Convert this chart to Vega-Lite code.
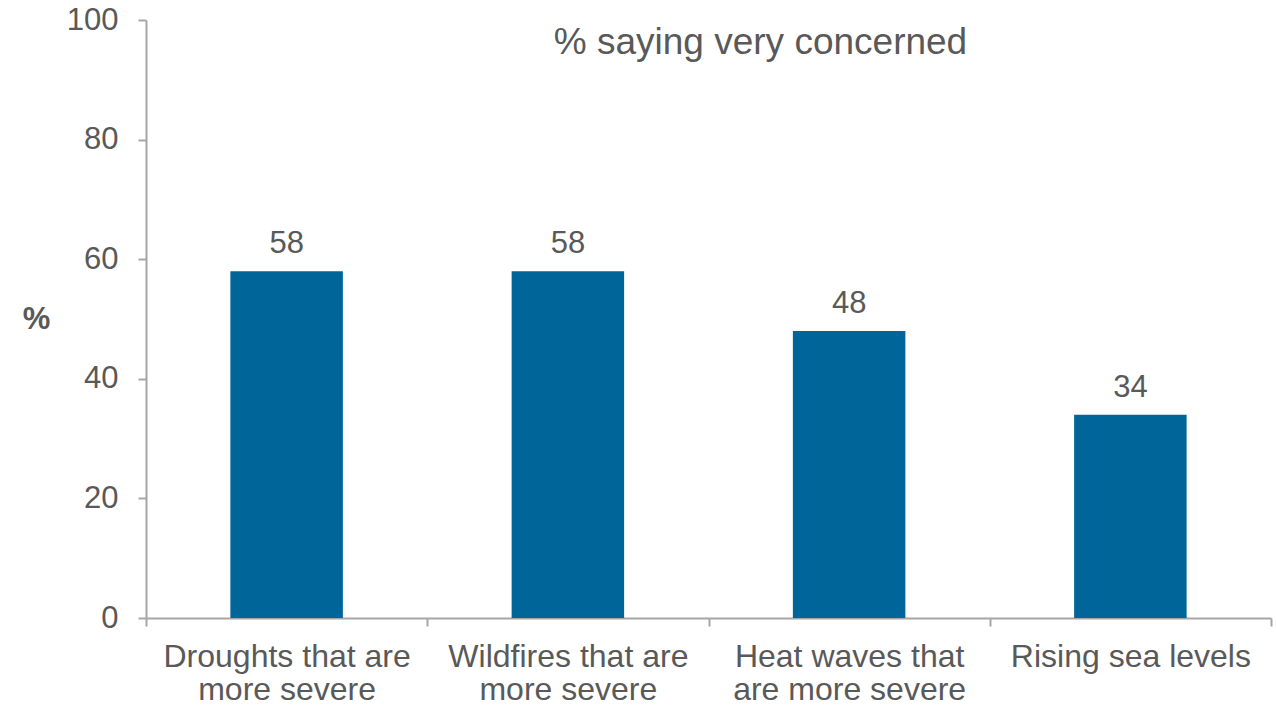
{
  "$schema": "https://vega.github.io/schema/vega-lite/v6.json",
  "autosize": "none",
  "width": 1125,
  "height": 598,
  "padding": {"left": 146, "top": 20, "right": 5, "bottom": 87},
  "background": "white",
  "config": {
    "view": {"stroke": null},
    "font": "Liberation Sans",
    "axis": {"labelFont": "Liberation Sans", "titleFont": "Liberation Sans"}
  },
  "title": {
    "text": "% saying very concerned",
    "anchor": "middle",
    "dx": 52,
    "offset": -58,
    "fontSize": 37,
    "fontWeight": "normal",
    "color": "#595959",
    "font": "Liberation Sans"
  },
  "data": {
    "values": [
      {"concern": "Droughts that are|more severe", "pct": 58},
      {"concern": "Wildfires that are|more severe", "pct": 58},
      {"concern": "Heat waves that|are more severe", "pct": 48},
      {"concern": "Rising sea levels", "pct": 34}
    ]
  },
  "encoding": {
    "x": {
      "field": "concern",
      "type": "nominal",
      "sort": null,
      "scale": {"paddingInner": 0, "paddingOuter": 0},
      "axis": {
        "title": null,
        "labelAngle": 0,
        "labelExpr": "split(datum.label, '|')",
        "labelFontSize": 32,
        "labelLimit": 0,
        "labelColor": "#595959",
        "labelLineHeight": 33,
        "labelPadding": 15,
        "tickBand": "extent",
        "tickSize": 8,
        "tickColor": "#a6a6a6",
        "domainColor": "#a6a6a6",
        "domainWidth": 2,
        "tickWidth": 2
      }
    },
    "y": {
      "field": "pct",
      "type": "quantitative",
      "scale": {"domain": [0, 100], "nice": false},
      "axis": {
        "title": "%",
        "titleAngle": 0,
        "titleFontSize": 31,
        "titleFontWeight": "bold",
        "titleColor": "#595959",
        "titleAlign": "center",
        "titleBaseline": "middle",
        "titleX": -110,
        "titleY": 299,
        "values": [0, 20, 40, 60, 80, 100],
        "grid": false,
        "labelFontSize": 31,
        "labelColor": "#595959",
        "labelPadding": 20,
        "tickSize": 8,
        "tickColor": "#a6a6a6",
        "domainColor": "#a6a6a6",
        "domainWidth": 2,
        "tickWidth": 2
      }
    }
  },
  "layer": [
    {"mark": {"type": "bar", "color": "#006699", "width": {"band": 0.4}}},
    {
      "mark": {"type": "text", "baseline": "alphabetic", "dy": -18, "fontSize": 31, "color": "#595959", "font": "Liberation Sans"},
      "encoding": {"text": {"field": "pct", "type": "quantitative"}}
    }
  ]
}
